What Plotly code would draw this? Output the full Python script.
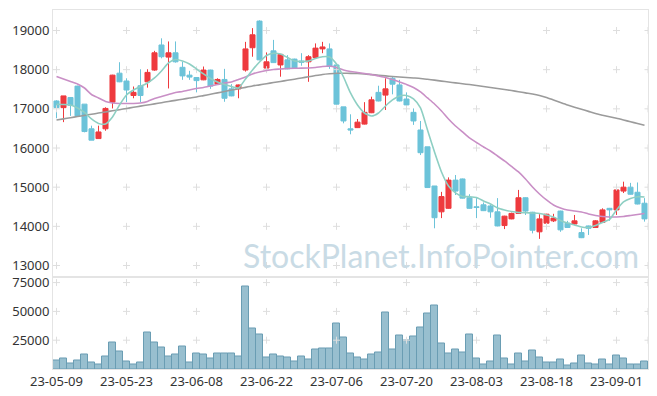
import plotly.graph_objects as go
from plotly.subplots import make_subplots

dates = [
    "23-05-09", "23-05-10", "23-05-11", "23-05-12", "23-05-15", "23-05-16", "23-05-17", "23-05-18", "23-05-19", "23-05-22",
    "23-05-23", "23-05-24", "23-05-25", "23-05-26", "23-05-30", "23-05-31", "23-06-01", "23-06-02", "23-06-05", "23-06-07",
    "23-06-08", "23-06-09", "23-06-12", "23-06-13", "23-06-14", "23-06-15", "23-06-16", "23-06-19", "23-06-20", "23-06-21",
    "23-06-22", "23-06-23", "23-06-26", "23-06-27", "23-06-28", "23-06-29", "23-06-30", "23-07-03", "23-07-04", "23-07-05",
    "23-07-06", "23-07-07", "23-07-10", "23-07-11", "23-07-12", "23-07-13", "23-07-14", "23-07-17", "23-07-18", "23-07-19",
    "23-07-20", "23-07-21", "23-07-24", "23-07-25", "23-07-26", "23-07-27", "23-07-28", "23-07-31", "23-08-01", "23-08-02",
    "23-08-03", "23-08-04", "23-08-07", "23-08-08", "23-08-09", "23-08-10", "23-08-11", "23-08-14", "23-08-16", "23-08-17",
    "23-08-18", "23-08-21", "23-08-22", "23-08-23", "23-08-24", "23-08-25", "23-08-28", "23-08-29", "23-08-30", "23-08-31",
    "23-09-01", "23-09-04", "23-09-05", "23-09-06", "23-09-07",
]

open_ = [17200, 17030, 17290, 17580, 17120, 16490, 16240, 16490, 17170, 17910,
         17710, 17340, 17590, 17690, 17990, 18630, 18320, 18430, 18060, 17860,
         17800, 17740, 17990, 17630, 17750, 17510, 17510, 17990, 18560, 19240,
         18040, 18480, 18120, 18250, 18270, 18220, 18200, 18310, 18530, 18530,
         18120, 17050, 16490, 16520, 16610, 16900, 17420, 17350, 17780, 17610,
         17250, 16910, 16460, 16030, 15030, 14370, 14460, 15180, 15210, 14730,
         14500, 14550, 14520, 14370, 14020, 14190, 14330, 14730, 14360, 13860,
         14080, 14140, 14390, 14080, 14060, 13840, 14010, 13970, 14100, 14460,
         14420, 14900, 15000, 14870, 14590]
high = [17220, 17330, 17300, 17590, 17120, 16570, 16570, 17040, 17870, 18190,
        17780, 17570, 18010, 18010, 18480, 18800, 18720, 18720, 18200, 17970,
        17810, 18080, 18000, 17780, 18020, 17630, 17620, 18710, 19060, 19260,
        18440, 18760, 18400, 18370, 18280, 18420, 18370, 18670, 18710, 18670,
        18120, 17050, 16860, 16740, 17170, 17310, 17590, 17780, 17810, 17740,
        17420, 17010, 16690, 16030, 15030, 14880, 15250, 15310, 15220, 14820,
        14720, 14610, 14550, 14720, 14270, 14350, 14930, 14740, 14370, 14310,
        14320, 14320, 14400, 14140, 14290, 13950, 14020, 14160, 14460, 14470,
        14940, 15140, 15110, 15120, 14720]
low = [16760, 16660, 16820, 16800, 16400, 16200, 16240, 16440, 17010, 17680,
       17170, 17270, 17170, 17540, 17970, 18290, 17520, 18180, 17740, 17740,
       17420, 17730, 17510, 17620, 17180, 17320, 17270, 17950, 18330, 18240,
       17990, 18170, 17820, 18010, 18030, 18100, 17690, 18300, 18420, 18020,
       17110, 16630, 16350, 16510, 16600, 16890, 17190, 16970, 17370, 17190,
       17010, 16590, 15820, 14980, 13950, 14210, 14450, 14800, 14710, 14450,
       14210, 14390, 14220, 14000, 13930, 14180, 14320, 14290, 13820, 13680,
       13990, 14110, 13860, 13960, 14040, 13700, 13780, 13960, 14090, 14140,
       14290, 14850, 14810, 14560, 14120]
close = [17030, 17330, 17090, 16820, 16420, 16200, 16410, 17010, 17860, 17690,
         17480, 17420, 17340, 17930, 18430, 18330, 18430, 18200, 17840, 17810,
         17720, 17990, 17580, 17750, 17270, 17330, 17610, 18530, 18890, 18250,
         18200, 18180, 18390, 18020, 18040, 18190, 18330, 18550, 18580, 18080,
         17120, 16690, 16460, 16660, 16910, 17230, 17200, 17510, 17630, 17200,
         17100, 16690, 15880, 14990, 14220, 14760, 15180, 14900, 14720, 14460,
         14480, 14400, 14370, 14010, 14260, 14330, 14730, 14390, 13900, 14190,
         14310, 14210, 13910, 13970, 14140, 13710, 13950, 14140, 14420, 14420,
         14930, 15000, 14820, 14570, 14190]
volume = [7000, 9400, 5000, 7630, 12890, 5880, 4120, 11140, 23420, 15530,
          6750, 4120, 5880, 31320, 23420, 19030, 11140, 12890, 19910, 5880,
          13770, 12890, 9390, 13770, 13770, 13770, 11140, 71900, 34820, 29560,
          10260, 12890, 11140, 10260, 6750, 11140, 8510, 17280, 18160, 18160,
          39210, 26930, 13770, 10260, 8510, 12890, 14650, 48860, 17280, 28680,
          25170, 27810, 35700, 47970, 55000, 22540, 13770, 17280, 14650, 29560,
          9390, 4120, 6750, 28680, 9390, 4120, 13770, 6750, 16400, 10260,
          5880, 5880, 8510, 3250, 5000, 12000, 5000, 4120, 8510, 4120,
          12000, 9390, 4120, 4120, 6750]
ma5 = [17116, 17111, 17098, 17022, 16907, 16741, 16626, 16613, 16792, 17098,
       17354, 17481, 17571, 17660, 17788, 17966, 18171, 18260, 18222, 18145,
       18017, 17890, 17775, 17686, 17622, 17571, 17532, 17762, 17992, 18196,
       18362, 18418, 18400, 18311, 18222, 18209, 18222, 18285, 18331, 18324,
       18145, 17813, 17405, 17098, 16894, 16817, 16894, 17073, 17226, 17328,
       17341, 17252, 17022, 16460, 15898, 15388, 15030, 14852, 14762, 14757,
       14737, 14648, 14571, 14469, 14418, 14379, 14354, 14349, 14340, 14328,
       14290, 14239, 14150, 14086, 14035, 13984, 13971, 14022, 14099, 14175,
       14418, 14622, 14711, 14757, 14750]
ma20 = [17826, 17762, 17698, 17634, 17532, 17366, 17277, 17188, 17149, 17137,
        17137, 17137, 17149, 17188, 17264, 17315, 17366, 17417, 17443, 17481,
        17520, 17545, 17583, 17622, 17660, 17686, 17749, 17813, 17890, 17941,
        17979, 18005, 18017, 18030, 18035, 18038, 18043, 18056, 18081, 18094,
        18056, 17992, 17954, 17928, 17903, 17877, 17839, 17800, 17749, 17686,
        17622, 17545, 17430, 17277, 17124, 16945, 16741, 16562, 16409, 16256,
        16141, 16026, 15924, 15796, 15669, 15528, 15388, 15209, 15005, 14826,
        14673, 14545, 14469, 14418, 14392, 14367, 14316, 14277, 14252, 14239,
        14239, 14252, 14277, 14303, 14328]
ma60 = [16715, 16744, 16774, 16802, 16833, 16861, 16892, 16920, 16950, 16978,
        17009, 17040, 17068, 17098, 17126, 17157, 17188, 17216, 17246, 17275,
        17303, 17338, 17372, 17407, 17443, 17479, 17512, 17548, 17583, 17611,
        17642, 17670, 17698, 17729, 17757, 17788, 17818, 17849, 17877, 17895,
        17908, 17908, 17905, 17900, 17890, 17874, 17859, 17841, 17826, 17813,
        17800, 17788, 17775, 17754, 17732, 17708, 17685, 17663, 17640, 17619,
        17596, 17571, 17545, 17520, 17494, 17466, 17438, 17407, 17379, 17341,
        17290, 17226, 17162, 17099, 17042, 16989, 16935, 16881, 16838, 16797,
        16759, 16715, 16669, 16626, 16580]

price_ticks = [13000, 14000, 15000, 16000, 17000, 18000, 19000]
volume_ticks = [25000, 50000, 75000]

RED = "#ee3a3e"
BLUE = "#6cc3d9"
GRID = "#dedede"
AXIS = "#e4e4e4"
FONT = "Noto Sans"

idx = list(range(len(dates)))
tick_idx = idx[::10]
tick_text = [dates[i] for i in tick_idx]

fig = make_subplots(rows=2, cols=1, shared_xaxes=True, vertical_spacing=0,
                    row_heights=[0.7451, 0.2549])

# grid crosses
gx = tick_idx + [len(dates) - 0.5]
fig.add_trace(go.Scatter(
    x=[x for x in gx for _ in price_ticks], y=[y for _ in gx for y in price_ticks],
    mode="markers", marker=dict(symbol="cross-thin", size=5, line=dict(color=GRID, width=1)),
    hoverinfo="skip", showlegend=False), row=1, col=1)
fig.add_trace(go.Scatter(
    x=[x for x in gx for _ in volume_ticks], y=[y for _ in gx for y in volume_ticks],
    mode="markers", marker=dict(symbol="cross-thin", size=5, line=dict(color=GRID, width=1)),
    hoverinfo="skip", showlegend=False), row=2, col=1)

fig.add_trace(go.Candlestick(
    x=idx, open=open_, high=high, low=low, close=close,
    increasing=dict(line=dict(color=RED, width=1), fillcolor=RED),
    decreasing=dict(line=dict(color=BLUE, width=1), fillcolor=BLUE),
    whiskerwidth=0, showlegend=False), row=1, col=1)

for ma, col in [(ma60, "#9b9b9b"), (ma20, "#c98fc6"), (ma5, "#8ecfc3")]:
    fig.add_trace(go.Scatter(x=idx, y=ma, mode="lines",
                             line=dict(color=col, width=1.6, shape="spline", smoothing=0.6),
                             hoverinfo="skip", showlegend=False), row=1, col=1)

fig.add_trace(go.Bar(x=idx, y=volume, width=1.0,
                     marker=dict(color="#98bfcf", line=dict(color="#6a9db3", width=1)),
                     showlegend=False), row=2, col=1)

fig.update_layout(
    width=657, height=396,
    margin=dict(l=53, r=9, t=10, b=27, autoexpand=False),
    paper_bgcolor="white", plot_bgcolor="white",
    font=dict(family=FONT, size=13, color="#333333"),
    boxgap=0.15, boxgroupgap=0.15,
    bargap=0,
    annotations=[dict(text="StockPlanet.InfoPointer.com", xref="paper", yref="paper",
                      x=0.652, y=0.315, xanchor="center", yanchor="middle", showarrow=False,
                      font=dict(family="Lato", size=32, color="#c9dbe5"))],
)

xcommon = dict(range=[-0.5, len(dates) - 0.5], tickvals=tick_idx, ticktext=tick_text,
               showgrid=False, zeroline=False, showline=True, linecolor=AXIS, linewidth=1,
               mirror=True, ticks="", automargin=False, tickfont=dict(size=13, color="#333333"))
fig.update_xaxes(**xcommon)
fig.update_xaxes(showticklabels=False, row=1, col=1)
fig.update_xaxes(rangeslider=dict(visible=False))

fig.update_yaxes(range=[12694, 19523], tickvals=price_ticks, ticktext=[str(v) for v in price_ticks],
                 showgrid=False, zeroline=False, automargin=False,
                 showline=True, linecolor=AXIS, mirror=True, ticks="",
                 tickfont=dict(size=13, color="#333333"), row=1, col=1)
fig.update_yaxes(range=[0, 79430], tickvals=volume_ticks, ticktext=[str(v) for v in volume_ticks],
                 showgrid=False, zeroline=False, automargin=False,
                 showline=True, linecolor=AXIS, mirror=True, ticks="",
                 tickfont=dict(size=13, color="#333333"), row=2, col=1)

fig.write_html("out.html", config={"displayModeBar": False},
               post_script="document.body.style.margin='0';document.body.style.padding='0';")
